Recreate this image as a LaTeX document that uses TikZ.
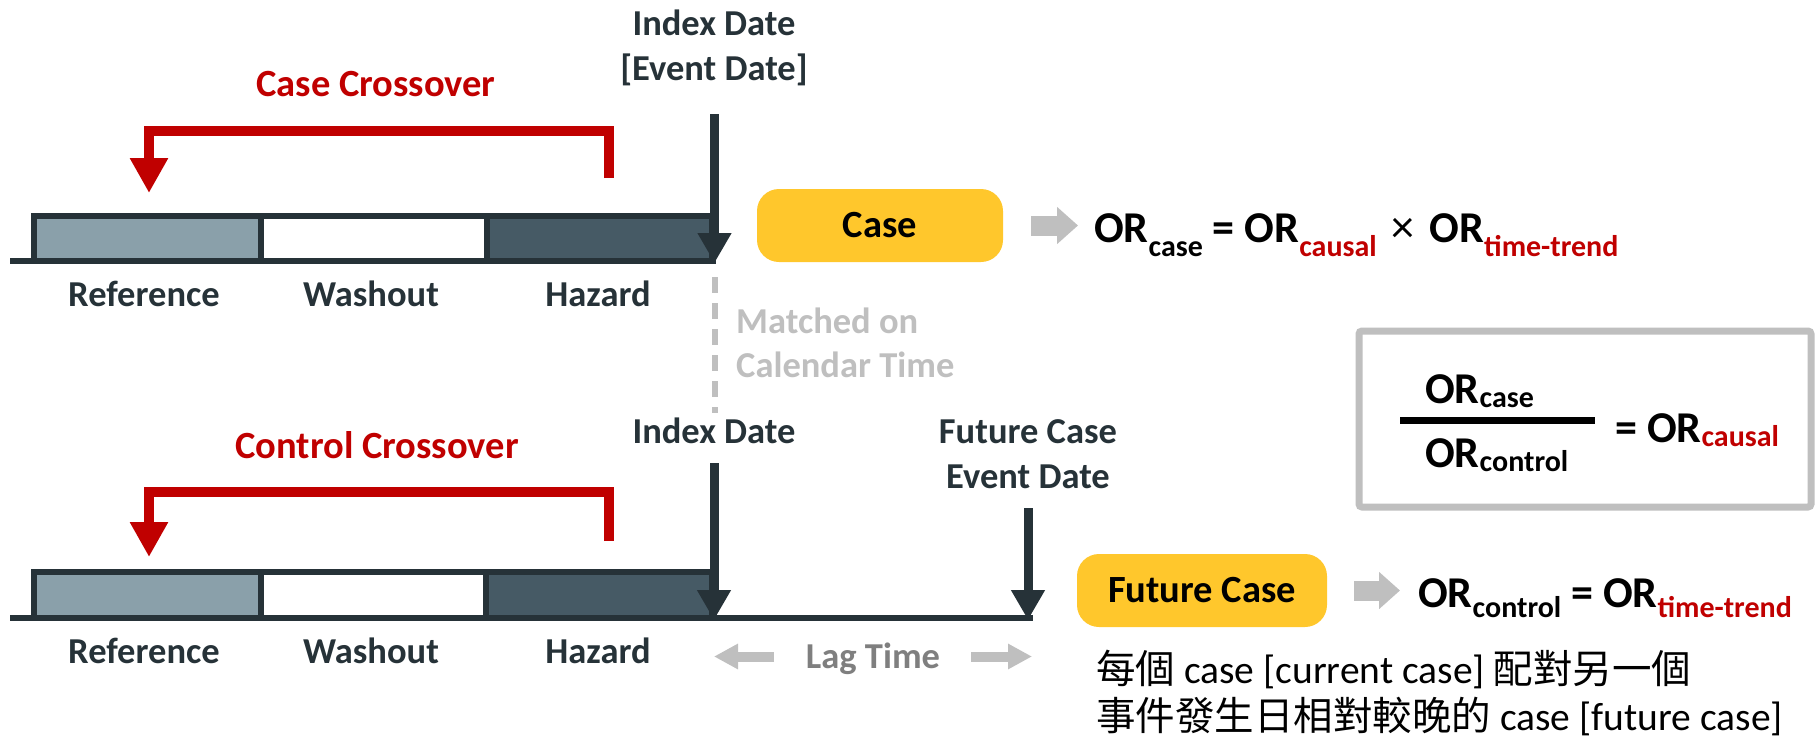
\documentclass[tikz,border=0pt]{standalone}
\usepackage{fontspec}
\setmainfont{Carlito}
\newfontfamily\cjk{Noto Sans CJK TC}
\usetikzlibrary{arrows.meta}
\definecolor{ink}{HTML}{263238}
\definecolor{hazc}{HTML}{465A65}
\definecolor{refc}{HTML}{8AA0AA}
\definecolor{crim}{HTML}{C00000}
\definecolor{lgray}{HTML}{BFBFBF}
\definecolor{mgray}{HTML}{7F7F7F}
\definecolor{gold}{HTML}{FFC72C}
\newcommand\mysub[2][12]{\raisebox{-#1pt}{\fontsize{30}{30}\selectfont #2}}
\newcommand\rd[1]{\textcolor{crim}{#1}}
\begin{document}
\begin{tikzpicture}[x=1pt,y=-1pt,
  lbl/.style={inner sep=0pt, text=ink, font=\fontsize{36.5}{44}\selectfont\bfseries},
  ttl/.style={inner sep=0pt, text=crim, font=\fontsize{38.5}{46}\selectfont\bfseries},
  bar/.style={draw=ink, line width=6pt},
  darrow/.style={draw=ink, line width=9pt, -{Triangle[width=32pt,length=30pt]}},
  rarrow/.style={draw=crim, line width=10pt, line join=miter, -{Triangle[width=36pt,length=35pt]}},
  garrow/.style={draw=lgray, line width=20pt, -{Triangle[width=36pt,length=21pt]}},
  lagarrow/.style={draw=lgray, line width=10pt, -{Triangle[width=24pt,length=24pt]}},
  ybox/.style={fill=gold, rounded corners=22pt, inner sep=0pt, text=black, font=\fontsize{38.5}{46}\selectfont\bfseries},
  eq/.style={inner sep=0pt, text=black, font=\fontsize{44}{50}\selectfont\bfseries},
  cn/.style={inner sep=0pt, text=black, font=\fontsize{39.5}{47}\selectfont}
]
\useasboundingbox (0,0) rectangle (1818,739);

% ---------- top timeline ----------
\draw[bar, fill=refc] (34,216) rectangle (261,261);
\draw[bar, fill=white] (261,216) rectangle (487,261);
\draw[bar, fill=hazc] (487,216) rectangle (712,261);
\coordinate (a0) at (10,261);
\coordinate (a1) at (716,261);
\draw[bar] (a0) -- (a1);
\coordinate (idxA) at (714.5,114);
\coordinate (idxAt) at (714.5,263);
\draw[darrow] (idxA) -- (idxAt);

\coordinate (rA0) at (609,178);
\coordinate (rA1) at (149,193);
\draw[rarrow] (rA0) -- ++(0,-47) -| (rA1);
\node[ttl, anchor=base] (ccA) at (376,96) {Case Crossover};

\node[lbl, anchor=base] (refA) at (144,306) {Reference};
\node[lbl, anchor=base] (washA) at (371,306) {Washout};
\node[lbl, anchor=base] (hazA) at (598,306) {Hazard};

\node[lbl, anchor=base] (idx1) at (714,35) {Index Date};
\node[lbl, anchor=base] (idx2) at (714,80) {[Event Date]};

\coordinate (dsA) at (714.5,277);
\coordinate (dsB) at (714.5,413);
\draw[lgray, line width=6pt, dash pattern=on 16pt off 10pt] (dsA) -- (dsB);
\node[lbl, text=lgray, anchor=base west] (m1) at (736,333) {Matched on};
\node[lbl, text=lgray, anchor=base west] (m2) at (736,377) {Calendar Time};

\node[ybox, minimum width=246pt, minimum height=73pt] (case) at (880,225.5) {Case};
\node[eq, anchor=base west] (fa) at (1094,242) {OR\mysub[14]{case} = OR\mysub[14]{\rd{causal}}\hspace{15pt}{\mdseries\fontsize{46}{50}\selectfont ×}\hspace{15pt}OR\mysub[14]{\rd{time-trend}}};
\draw[garrow, shorten <=28pt, shorten >=16pt] (case.east) -- (case.east -| fa.west);

% ---------- ratio box ----------
\node[draw=lgray, line width=7pt, minimum width=452pt, minimum height=176pt, inner sep=0pt, rounded corners=3pt] (gbox) at (1585,419) {};
\node[eq, anchor=base west] (num) at (1425,403) {OR\mysub[4]{case}};
\node[eq, anchor=base west] (den) at (1425,467) {OR\mysub[4]{control}};
\coordinate (fb0) at (1400,420.5);
\coordinate (fb1) at (1595,420.5);
\draw[black, line width=6.5pt] (fb0) -- (fb1);
\node[eq, anchor=base west] (fc) at (1615,442) {= OR\mysub[4]{\rd{causal}}};

% ---------- lower timeline ----------
\draw[bar, fill=refc] (34,572) rectangle (261,618);
\draw[bar, fill=white] (261,572) rectangle (486,618);
\draw[bar, fill=hazc] (486,572) rectangle (712,618);
\coordinate (b0) at (10,618);
\coordinate (b1) at (1033,618);
\draw[bar] (b0) -- (b1);
\coordinate (idxB) at (714,463);
\coordinate (idxBt) at (714,620);
\draw[darrow] (idxB) -- (idxBt);
\coordinate (fut) at (1028,508);
\coordinate (futt) at (1028,620);
\draw[darrow] (fut) -- (futt);

\node[lbl, anchor=base] (idx3) at (714,443) {Index Date};
\node[lbl, anchor=base] (fc1) at (1028,443) {Future Case};
\node[lbl, anchor=base] (fc2) at (1028,488) {Event Date};

\coordinate (rB0) at (609,541);
\coordinate (rB1) at (149,557);
\draw[rarrow] (rB0) -- ++(0,-49) -| (rB1);
\node[ttl, anchor=base] (ccB) at (377,458) {Control Crossover};

\node[lbl, anchor=base] (refB) at (144,663) {Reference};
\node[lbl, anchor=base] (washB) at (371,663) {Washout};
\node[lbl, anchor=base] (hazB) at (598,663) {Hazard};

\node[lbl, text=mgray, anchor=base] (lag) at (873,668) {Lag Time};
\coordinate (lgL0) at (774,656.5);
\coordinate (lgL1) at (714,656.5);
\draw[lagarrow] (lgL0) -- (lgL1);
\coordinate (lgR0) at (971,656.5);
\coordinate (lgR1) at (1032,656.5);
\draw[lagarrow] (lgR0) -- (lgR1);

\node[ybox, minimum width=250pt, minimum height=73pt] (fcase) at (1202,590.5) {Future Case};
\node[eq, anchor=base west] (fbq) at (1418,607) {OR\mysub[10]{control} = OR\mysub[10]{\rd{time-trend}}};
\draw[garrow, shorten <=27pt, shorten >=18pt] (fcase.east) -- (fcase.east -| fbq.west);

\node[cn, anchor=base west] (zh1) at (1096,683) {{\cjk 每個} case [current case] {\cjk 配對另一個}};
\node[cn, anchor=base west] (zh2) at (1096,730) {{\cjk 事件發生日相對較晚的} case [future case]};
\end{tikzpicture}
\end{document}
